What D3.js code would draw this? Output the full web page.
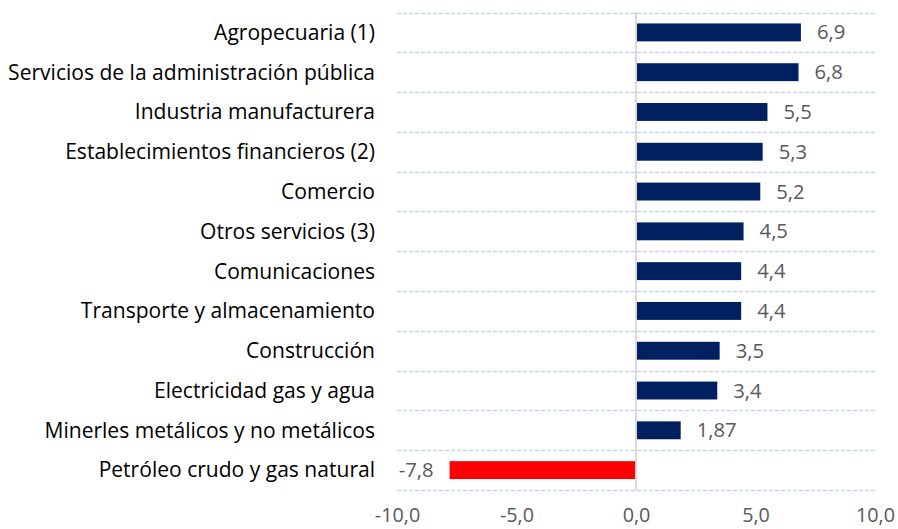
<!DOCTYPE html>
<html><head><meta charset="utf-8">
<script src="https://cdn.jsdelivr.net/npm/d3@7"></script>
<style>body{margin:0;background:#fff}svg{display:block}</style>
</head><body>
<script>
const categories = ["Agropecuaria (1)","Servicios de la administración pública","Industria manufacturera","Establecimientos financieros (2)","Comercio","Otros servicios (3)","Comunicaciones","Transporte y almacenamiento","Construcción","Electricidad gas y agua","Minerles metálicos y no metálicos","Petróleo crudo y gas natural"];
const values = [6.9,6.8,5.5,5.3,5.2,4.5,4.4,4.4,3.5,3.4,1.87,-7.8];
const valueLabels = ["6,9","6,8","5,5","5,3","5,2","4,5","4,4","4,4","3,5","3,4","1,87","-7,8"];
const ticks = [-10,-5,0,5,10];
const tickLabels = ["-10,0","-5,0","0,0","5,0","10,0"];

const W=898,H=529;
const svg=d3.select("body").append("svg").attr("width",W).attr("height",H);
const font="'Open Sans', sans-serif";

function fitSize(str, target){
  const t=svg.append("text").attr("font-family",font).attr("font-size",20).text(str);
  const w=t.node().getComputedTextLength(); t.remove();
  return 20*target/w;
}
const catSize=fitSize("Servicios de la administración pública",367);
const valSize=fitSize("1,87",40);
const tickSize=fitSize("10,0",39);

const x=d3.scaleLinear().domain([-10,10]).range([397,875]);
const y=d3.scaleBand().domain(categories).range([12.5,490]).paddingInner(0.55).paddingOuter(0.275);
const yb=d3.scaleBand().domain(categories).range([12.5,490]);

const bounds=categories.map(c=>yb(c)).concat([yb.range()[1]]);
svg.append("g").selectAll("line").data(bounds).join("line")
 .attr("x1",x(-10)).attr("x2",x(10)).attr("y1",d=>Math.round(d)+0.5).attr("y2",d=>Math.round(d)+0.5)
 .attr("stroke","#c5d5ea").attr("stroke-width",1.5).attr("stroke-dasharray","4,2");

svg.append("g").selectAll("rect").data(values).join("rect")
 .attr("x",d=>x(Math.min(0,d))).attr("width",d=>Math.abs(x(d)-x(0)))
 .attr("y",(d,i)=>y(categories[i])).attr("height",y.bandwidth())
 .attr("fill",d=>d<0?"#ff0000":"#002060");

svg.append("line").attr("x1",x(0)).attr("x2",x(0)).attr("y1",12).attr("y2",490)
 .attr("stroke","#d9d9d9").attr("stroke-width",2);

svg.append("g").selectAll("text").data(categories).join("text")
 .attr("x",375).attr("y",d=>yb(d)+yb.bandwidth()/2).attr("dy","0.35em")
 .attr("text-anchor","end").attr("font-family",font).attr("font-size",catSize).attr("fill","#000")
 .text(d=>d);

svg.append("g").selectAll("text").data(values).join("text")
 .attr("x",d=>d<0?x(d)-16:x(d)+16).attr("y",(d,i)=>yb(categories[i])+yb.bandwidth()/2).attr("dy","0.35em")
 .attr("text-anchor",d=>d<0?"end":"start").attr("font-family",font).attr("font-size",valSize).attr("fill","#595959")
 .text((d,i)=>valueLabels[i]);

const ax=d3.axisBottom(x).tickValues(ticks).tickFormat((d,i)=>tickLabels[i]).tickSize(0).tickPadding(0);
const g=svg.append("g").attr("transform","translate(0,515)").call(ax);
g.select(".domain").remove();
g.selectAll("text").attr("font-family",font).attr("font-size",tickSize).attr("fill","#595959").attr("dy","0.35em");
</script>
</body></html>
